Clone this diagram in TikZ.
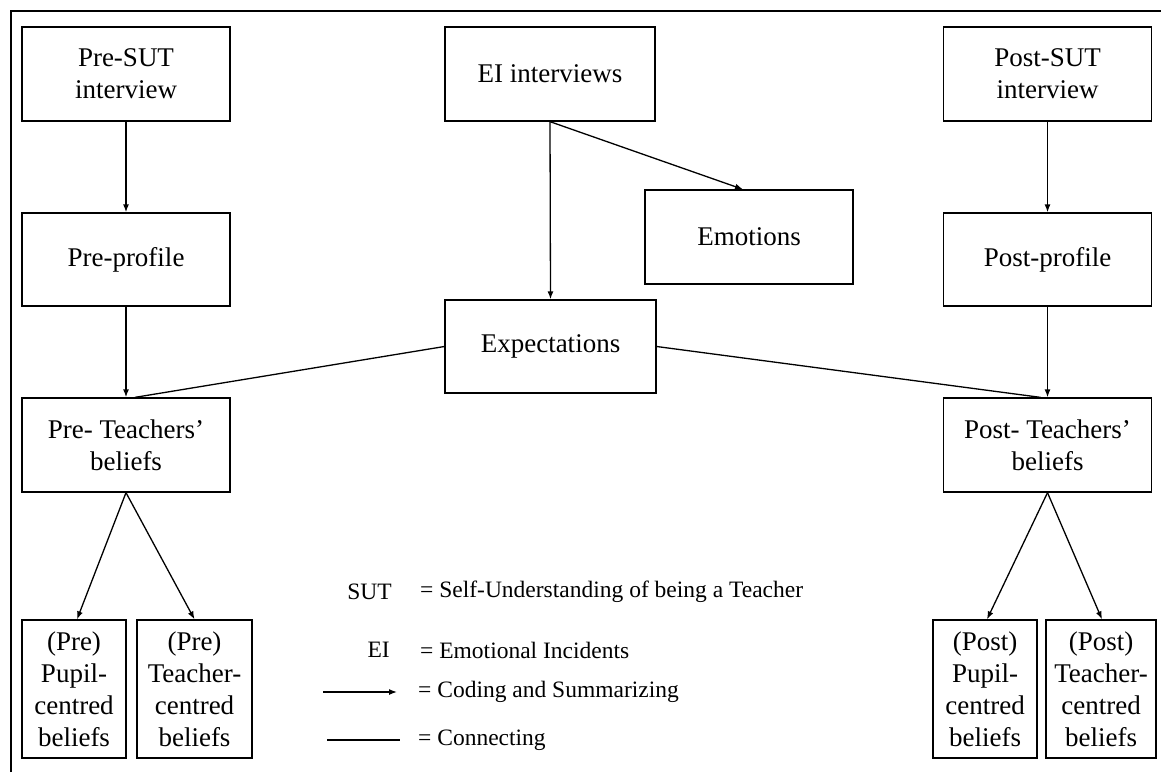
\documentclass[tikz,border=0pt]{standalone}
\usepackage{fontspec}
\setmainfont{Liberation Serif}
\usetikzlibrary{positioning, arrows.meta}

\tikzset{
    box/.style={draw, rectangle, align=center, inner sep=0pt, line width=1.3pt,
        font=\fontsize{27}{32}\selectfont},
    wide/.style={box, minimum width=208pt, minimum height=94pt},
    slim/.style={box, minimum height=138pt},
    code/.style={line width=1.3pt, -{Latex[length=8pt,width=6pt]}},
    link/.style={line width=1.3pt},
    legend/.style={font=\fontsize{23.5}{28}\selectfont, inner sep=0pt}
}

\begin{document}
\begin{tikzpicture}[x=1pt, y=-1pt]
            \useasboundingbox (0,0) rectangle (1161,772);
            \draw[line width=1.3pt] (11,772) -- (11,11) -- (1161,11);

            \node[wide] (presut) at (126,74) {Pre-SUT\\interview};
            \node[wide, minimum width=210pt] (ei) at (550,74) {EI interviews};
            \node[wide] (postsut) at (1047.5,74) {Post-SUT\\interview};

            \node[wide, minimum height=93pt] (preprof) at (126,259.5) {Pre-profile};
            \node[wide] (emo) at (749,237) {Emotions};
            \node[wide, minimum height=93pt] (postprof) at (1047.5,259.5) {Post-profile};

            \node[wide, minimum width=211pt, minimum height=93pt] (expect) at (550.5,346.5) {Expectations};

            \node[wide] (preteach) at (126,445) {Pre- Teachers'\\beliefs};
            \node[wide] (postteach) at (1047.5,445) {Post- Teachers'\\beliefs};

            \node[slim, minimum width=104pt] (prepupil) at (74,689) {(Pre)\\Pupil-\\centred\\beliefs};
            \node[slim, minimum width=115pt] (preteacher) at (194.5,689) {(Pre)\\Teacher-\\centred\\beliefs};
            \node[slim, minimum width=104pt] (postpupil) at (985,689) {(Post)\\Pupil-\\centred\\beliefs};
            \node[slim, minimum width=110pt] (postteacher) at (1101,689) {(Post)\\Teacher-\\centred\\beliefs};

            % coding and summarizing
            \draw[code] (presut) -- (preprof);
            \draw[code] (preprof) -- (preteach);
            \draw[code] (postsut) -- (postprof);
            \draw[code] (postprof) -- (postteach);
            \draw[code] (ei.south) -- (expect.north);
            \draw[code] (ei.south) -- ([xshift=-6pt]emo.north);
            \draw[code] (preteach.south) -- ([xshift=3pt]prepupil.north);
            \draw[code] (preteach.south) -- (preteacher.north);
            \draw[code] (postteach.south) -- ([xshift=2pt]postpupil.north);
            \draw[code] (postteach.south) -- ([xshift=1pt]postteacher.north);

            % connecting
            \draw[link] (expect.west) -- ([xshift=9pt]preteach.north);
            \draw[link] (expect.east) -- ([xshift=-7pt]postteach.north);

            % legend
            \node[legend, anchor=east] (sut) at (392,592) {SUT};
            \node[legend, anchor=west] (sutdef) at (420,592) {= Self-Understanding of being a Teacher};
            \node[legend, anchor=east] (eikey) at (390,650) {EI};
            \node[legend, anchor=west] (eidef) at (420,650) {= Emotional Incidents};
            \coordinate (codea) at (323,692);
            \coordinate (codeb) at (397,692);
            \draw[code] (codea) -- (codeb);
            \node[legend, anchor=west] (codedef) at (418,692) {= Coding and Summarizing};
            \coordinate (linka) at (327,740);
            \coordinate (linkb) at (400,740);
            \draw[link] (linka) -- (linkb);
            \node[legend, anchor=west] (linkdef) at (418,740) {= Connecting};
        \end{tikzpicture}
\end{document}
